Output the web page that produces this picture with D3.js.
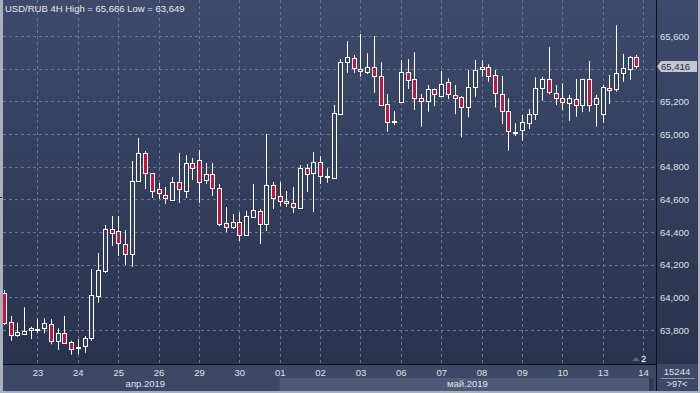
<!DOCTYPE html>
<html>
<head>
<meta charset="utf-8">
<script src="https://cdn.jsdelivr.net/npm/d3@7"></script>
<style>
  body { margin: 0; background: #2d3854; overflow: hidden; }
  svg { display: block; }
  text { font-family: "Liberation Sans", Arial, sans-serif; }
</style>
</head>
<body>
<script>
// USD/RUB 4H candles, 22 Apr (partial) .. 13 May 2019
var opens = [64026,63847,63765,63776,63796,
  63806,63808,63837,63734,63780,63728,
  63693,63698,63749,64008,64161,64418,
  64406,64327,64265,64712,64884,64761,
  64663,64627,64596,64706,64651,64822,
  64841,64718,64755,64669,64455,64431,
  64461,64382,64492,64529,64449,64688,
  64620,64590,64578,64547,64792,64761,
  64829,64743,64729,65122,65439,65463,
  65384,65375,65408,65355,65184,65078,
  65194,65378,65335,65219,65200,65274,
  65234,65320,65237,65225,65163,65290,
  65396,65408,65361,65245,65141,65014,
  65024,65066,65122,65280,65337,65249,
  65219,65188,65212,65178,65335,65182,
  65121,65280,65274,65372,65398,65470];
var highs = [64045,63886,63845,63939,63820,
  63872,63872,63866,63810,63886,63734,
  63743,63763,64173,64271,64443,64498,
  64498,64412,64835,64976,64896,64761,
  64700,64676,64737,64884,64871,64853,
  64902,64822,64822,64694,64553,64510,
  64522,64529,64694,64541,65000,64706,
  64706,64651,64676,64810,64816,64890,
  64865,64790,65178,65459,65569,65484,
  65612,65494,65600,65439,65245,65141,
  65453,65459,65500,65245,65300,65278,
  65386,65341,65300,65233,65392,65453,
  65453,65427,65392,65355,65219,65066,
  65116,65153,65347,65351,65531,65300,
  65310,65239,65337,65338,65447,65239,
  65300,65361,65666,65490,65478,65484];
var lows = [63831,63734,63759,63769,63745,
  63780,63780,63712,63678,63714,63649,
  63652,63661,63734,63967,64149,64314,
  64253,64198,64186,64706,64663,64608,
  64602,64571,64590,64578,64608,64718,
  64578,64694,64620,64437,64400,64418,
  64345,64376,64492,64327,64406,64541,
  64559,64553,64516,64541,64645,64522,
  64694,64702,64725,65116,65375,65375,
  65351,65367,65253,65171,65014,65055,
  65190,65276,65147,65045,65137,65171,
  65225,65214,65121,64980,65102,65228,
  65351,65320,65163,65061,64898,64988,
  64959,65031,65086,65204,65243,65178,
  65147,65081,65106,65133,65137,65045,
  65069,65184,65259,65320,65331,65400];
var closes = [63843,63765,63786,63796,63810,
  63809,63841,63734,63780,63719,63688,
  63696,63749,64014,64167,64418,64394,
  64333,64265,64712,64884,64761,64651,
  64639,64606,64706,64663,64822,64792,
  64706,64755,64669,64449,64431,64461,
  64382,64498,64535,64449,64688,64608,
  64590,64578,64553,64792,64755,64829,
  64743,64735,65127,65439,65470,65402,
  65396,65408,65355,65178,65075,65080,
  65378,65326,65216,65200,65274,65245,
  65306,65245,65219,65163,65286,65392,
  65408,65351,65249,65141,65018,65015,
  65075,65122,65280,65337,65255,65219,
  65194,65219,65178,65335,65178,65219,
  65286,65265,65372,65402,65470,65416];

// day labels, first one starts at bar 5, 6 bars a day
var dayLabels = ["23","24","25","26","29","30","01","02","03","06","07","08","09","10","13","14"];
var monthLabels = ["апр.2019", "май.2019"];
var priceTicks = [63800,64000,64200,64400,64600,64800,65000,65200,65400,65600];
var titleText = "USD/RUB 4H High = 65,666 Low = 63,649";
var lastPrice = 65416;
var barsInfo = ["15244", ">97<"];

var W = 700, H = 393;
var plotR = 656, plotB = 364;

var svg = d3.select("body").append("svg")
  .attr("width", W).attr("height", H);

var defs = svg.append("defs");
var grad = defs.append("linearGradient").attr("id", "bg")
  .attr("x1", 0).attr("y1", 0).attr("x2", 0).attr("y2", 1);
grad.append("stop").attr("offset", "0%").attr("stop-color", "#3d4a6b");
grad.append("stop").attr("offset", "100%").attr("stop-color", "#29334f");

// backgrounds
svg.append("rect").attr("x", 0).attr("y", 0).attr("width", W).attr("height", plotB)
  .attr("fill", "url(#bg)");
svg.append("rect").attr("x", 0).attr("y", plotB).attr("width", W).attr("height", H - plotB)
  .attr("fill", "#3c4866");

var x = d3.scaleLinear().domain([0, 95]).range([3.86, 643]);
var y = d3.scaleLinear().domain([63800, 65600]).range([330, 36]);

var dayIdx = dayLabels.map(function(d, i) { return 5 + i * 6; });
var mayStart = dayIdx[dayLabels.indexOf("01")];

// month band (May part lighter)
svg.append("rect").attr("x", x(mayStart)).attr("y", 378)
  .attr("width", 649 - x(mayStart)).attr("height", 13).attr("fill", "#4e5a77");
svg.append("rect").attr("x", 649).attr("y", 378).attr("width", 4).attr("height", 13)
  .attr("fill", "#2f3a55");

// grid
var grid = svg.append("g").attr("stroke", "#66749a").attr("stroke-dasharray", "3,3")
  .attr("stroke-width", 1);
grid.selectAll(".hg").data(priceTicks).enter().append("line")
  .attr("x1", 3).attr("x2", plotR)
  .attr("y1", function(d) { return Math.round(y(d)) + 0.5; })
  .attr("y2", function(d) { return Math.round(y(d)) + 0.5; });
grid.selectAll(".vg").data(dayIdx).enter().append("line")
  .attr("y1", 0).attr("y2", plotB)
  .attr("x1", function(d) { return Math.round(x(d)) + 0.5; })
  .attr("x2", function(d) { return Math.round(x(d)) + 0.5; });

// candles
var idx = d3.range(opens.length);
var cg = svg.append("g");
var bars = cg.selectAll("g.c").data(idx).enter().append("g").attr("class", "c");
bars.append("line")
  .attr("x1", function(i) { return Math.round(x(i)) + 0.5; })
  .attr("x2", function(i) { return Math.round(x(i)) + 0.5; })
  .attr("y1", function(i) { return y(highs[i]); })
  .attr("y2", function(i) { return y(lows[i]); })
  .attr("stroke", "#ffffff").attr("stroke-width", 1);
bars.append("rect")
  .attr("x", function(i) { return Math.round(x(i)) - 1.5; })
  .attr("width", 4)
  .attr("y", function(i) { return Math.round(y(Math.max(opens[i], closes[i]))) + 0.5; })
  .attr("height", function(i) {
    return Math.max(1, Math.round(Math.abs(y(opens[i]) - y(closes[i]))));
  })
  .attr("fill", function(i) { return closes[i] < opens[i] ? "#c8143c" : "#34405e"; })
  .attr("stroke", "#ffffff").attr("stroke-width", 1);

// frame lines
svg.append("line").attr("x1", 3).attr("x2", plotR).attr("y1", plotB + 0.5).attr("y2", plotB + 0.5)
  .attr("stroke", "#0b0f19");
svg.append("line").attr("x1", plotR + 0.5).attr("x2", plotR + 0.5).attr("y1", 0).attr("y2", H)
  .attr("stroke", "#0b0f19");
svg.append("rect").attr("x", 0).attr("y", 0).attr("width", 3).attr("height", H).attr("fill", "#aab0bc");
svg.append("rect").attr("x", W - 2).attr("y", 0).attr("width", 2).attr("height", H).attr("fill", "#aab0bc");
svg.append("rect").attr("x", 0).attr("y", H - 2).attr("width", W).attr("height", 2).attr("fill", "#aab0bc");
svg.append("line").attr("x1", 0).attr("x2", 2).attr("y1", 197.5).attr("y2", 197.5).attr("stroke", "#1a2030");

// y axis labels (the one under the last price marker is hidden, as in the terminal)
var labelTicks = priceTicks.filter(function(d) { return Math.abs(y(d) - y(lastPrice)) > 10; });
var yAxis = d3.axisRight(y).tickValues(labelTicks).tickFormat(d3.format(",")).tickSize(0).tickPadding(4);
var ya = svg.append("g").attr("transform", "translate(" + plotR + ",0)").call(yAxis);
ya.select(".domain").remove();
ya.selectAll("text").attr("fill", "#dde2ea").style("font-size", "9.5px")
  .style("font-family", "'Liberation Sans', Arial, sans-serif");

// x axis labels
var xAxis = d3.axisBottom(x).tickValues(dayIdx)
  .tickFormat(function(d, i) { return dayLabels[i]; }).tickSize(0).tickPadding(5);
var xa = svg.append("g").attr("transform", "translate(0," + plotB + ")").call(xAxis);
xa.select(".domain").remove();
xa.selectAll("text").attr("fill", "#dde2ea").style("font-size", "9.5px")
  .style("font-family", "'Liberation Sans', Arial, sans-serif");

// month labels
svg.append("text").attr("x", (3 + x(mayStart)) / 2 + 4).attr("y", 387).attr("text-anchor", "middle")
  .attr("fill", "#dde2ea").style("font-size", "9.5px").text(monthLabels[0]);
svg.append("text").attr("x", (x(mayStart) + 649) / 2 + 3).attr("y", 387).attr("text-anchor", "middle")
  .attr("fill", "#dde2ea").style("font-size", "9.5px").text(monthLabels[1]);

// title
svg.append("text").attr("x", 5).attr("y", 12).attr("fill", "#e6e9ef")
  .style("font-size", "9.5px").text(titleText);

// last price marker
var ly = Math.round(y(lastPrice));
svg.append("path")
  .attr("d", "M657," + (ly + 0.5) + " L661," + (ly - 5) + " L697," + (ly - 5) + " L697," + (ly + 6) + " L661," + (ly + 6) + " Z")
  .attr("fill", "#c3c7cf");
svg.append("text").attr("x", 661).attr("y", ly + 4).attr("fill", "#1f2a44")
  .style("font-size", "9.5px").text(d3.format(",")(lastPrice));

// bottom right info box
svg.append("text").attr("x", 677).attr("y", 375).attr("text-anchor", "middle")
  .attr("fill", "#dde2ea").style("font-size", "9.5px").text(barsInfo[0]);
svg.append("line").attr("x1", 661).attr("x2", 695).attr("y1", 378.5).attr("y2", 378.5)
  .attr("stroke", "#8d96aa");
svg.append("text").attr("x", 677).attr("y", 387).attr("text-anchor", "middle")
  .attr("fill", "#dde2ea").style("font-size", "9px").text(barsInfo[1]);

// shift marker
svg.append("path").attr("d", "M632,361 L636,357 L640,361 Z").attr("fill", "#5a6686");
svg.append("text").attr("x", 641).attr("y", 362).attr("fill", "#ffffff")
  .style("font-size", "9.5px").text("2");
</script>
</body>
</html>
